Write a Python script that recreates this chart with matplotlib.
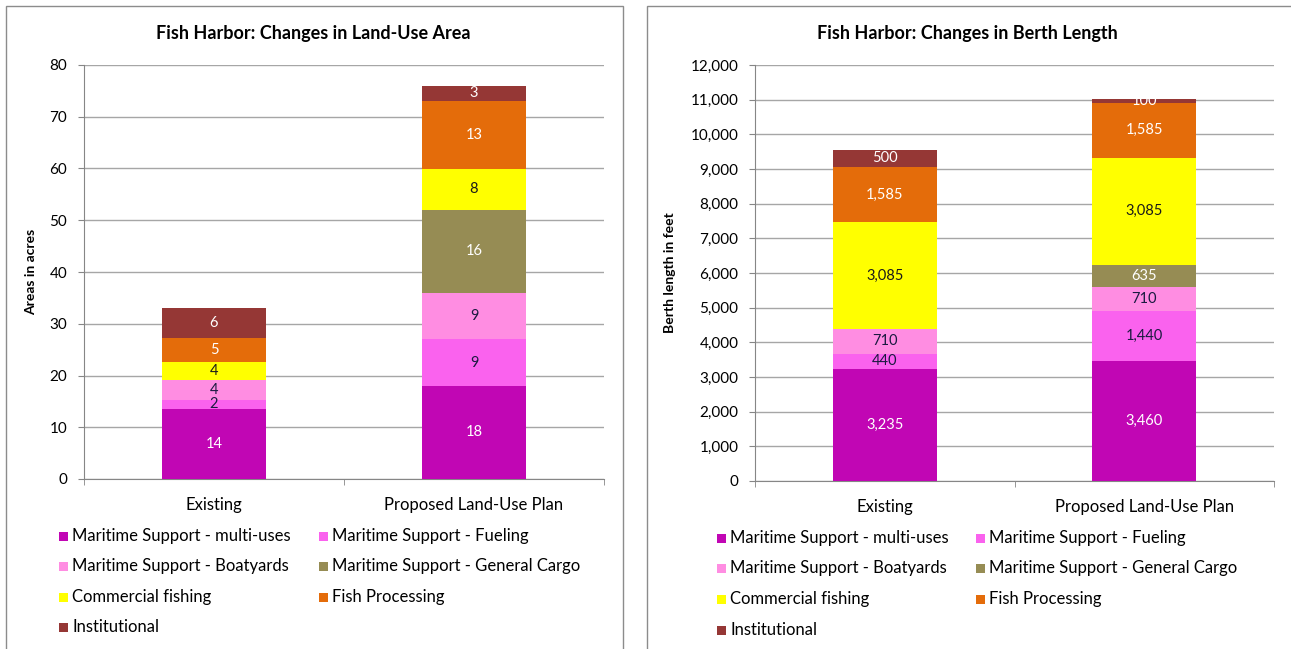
import matplotlib
matplotlib.use("Agg")
import matplotlib.pyplot as plt
from matplotlib.patches import Rectangle
from matplotlib.ticker import FuncFormatter, MultipleLocator

plt.rcParams['font.family'] = ['Lato', 'DejaVu Sans']

categories = ["Existing", "Proposed Land-Use Plan"]
series = [
    "Maritime Support - multi-uses",
    "Maritime Support - Fueling",
    "Maritime Support - Boatyards",
    "Maritime Support - General Cargo",
    "Commercial fishing",
    "Fish Processing",
    "Institutional",
]
colors = ["#C106B4", "#FA62EE", "#FF8DE2", "#968C54", "#FFFF00", "#E46C0A", "#953735"]
label_colors = ["white", "#1a1a40", "#1a1a40", "white", "#1a1a1a", "white", "white"]

# Land-use area in acres (Existing, Proposed)
area_multi = [13.6, 18]
area_fueling = [1.6, 9]
area_boatyards = [3.95, 9]
area_cargo = [0, 16]
area_fishing = [3.55, 8]
area_processing = [4.6, 13]
area_institutional = [5.8, 3]

# Berth length in feet (Existing, Proposed)
berth_multi = [3235, 3460]
berth_fueling = [440, 1440]
berth_boatyards = [710, 710]
berth_cargo = [0, 635]
berth_fishing = [3085, 3085]
berth_processing = [1585, 1585]
berth_institutional = [500, 100]

area = [area_multi, area_fueling, area_boatyards, area_cargo,
        area_fishing, area_processing, area_institutional]
berth = [berth_multi, berth_fueling, berth_boatyards, berth_cargo,
         berth_fishing, berth_processing, berth_institutional]

W, H = 1291, 649
fig = plt.figure(figsize=(W / 100, H / 100), dpi=100)
fig.patch.set_facecolor("white")


def px_axes(left, top, right, bottom):
    return fig.add_axes([left / W, 1 - bottom / H, (right - left) / W, (bottom - top) / H])


def panel_frame(x0, y0, x1, y1):
    fig.patches.append(Rectangle((x0 / W, 1 - y1 / H), (x1 - x0) / W, (y1 - y0) / H,
                                 transform=fig.transFigure, fill=False,
                                 edgecolor="#8c8c8c", linewidth=1.0))


def stacked(ax, data, width, ymax, step, fmt, ylabel):
    bottoms = [0.0] * len(categories)
    xs = list(range(len(categories)))
    for vals, c, lc in zip(data, colors, label_colors):
        ax.bar(xs, vals, width, bottom=bottoms, color=c, edgecolor="none", zorder=3)
        for i, v in enumerate(vals):
            if v > 0:
                ax.text(xs[i], bottoms[i] + v / 2, fmt(v), ha="center", va="center",
                        color=lc, fontsize=10.5, zorder=4)
        bottoms = [b + v for b, v in zip(bottoms, vals)]
    ax.set_xlim(-0.5, len(categories) - 0.5)
    ax.set_ylim(0, ymax)
    ax.yaxis.set_major_locator(MultipleLocator(step))
    ax.yaxis.set_major_formatter(FuncFormatter(lambda v, p: f"{int(v):,}"))
    ax.set_xticks(xs)
    ax.set_xticklabels(categories, fontsize=12)
    ax.set_xticks([-0.5, 0.5, 1.5], minor=True)
    ax.tick_params(axis="x", which="major", length=0, pad=13)
    ax.tick_params(axis="x", which="minor", length=4.5, color="#868686")
    ax.tick_params(axis="y", length=4.5, color="#868686", labelsize=11, pad=7.5)
    ax.grid(axis="y", color="#a6a6a6", linewidth=1.0, zorder=0)
    for s in ("top", "right"):
        ax.spines[s].set_visible(False)
    for s in ("left", "bottom"):
        ax.spines[s].set_color("#868686")
    ax.set_ylabel(ylabel, fontsize=10, fontweight="bold")


def legend(x_marker, x_col2, rows):
    pos = [(x_marker, rows[0]), (x_col2, rows[0]),
           (x_marker, rows[1]), (x_col2, rows[1]),
           (x_marker, rows[2]), (x_col2, rows[2]),
           (x_marker, rows[3])]
    for (x, y), name, c in zip(pos, series, colors):
        fig.patches.append(Rectangle(((x - 4.5) / W, 1 - (y + 4.5) / H), 9 / W, 9 / H,
                                     transform=fig.transFigure, facecolor=c,
                                     edgecolor="none"))
        fig.text((x + 9) / W, 1 - y / H, name, ha="left", va="center", fontsize=12)


# Left panel: land-use area
panel_frame(6, 6, 623, 660)
ax1 = px_axes(84, 65, 604, 479)
stacked(ax1, area, 0.40, 80, 10, lambda v: f"{v:.0f}", "Areas in acres")
ax1.yaxis.set_label_coords(-0.091, 0.5)
fig.text(313 / W, 1 - 33 / H, "Fish Harbor: Changes in Land-Use Area",
         ha="center", va="center", fontsize=13, fontweight="bold")
legend(63, 323, [536, 566, 597, 627])

# Right panel: berth length
panel_frame(647, 6, 1300, 660)
ax2 = px_axes(755, 65, 1274, 481)
stacked(ax2, berth, 0.40, 12000, 1000, lambda v: f"{v:,.0f}", "Berth length in feet")
ax2.yaxis.set_label_coords(-0.152, 0.5)
fig.text(967 / W, 1 - 33 / H, "Fish Harbor: Changes in Berth Length",
         ha="center", va="center", fontsize=13, fontweight="bold")
legend(721, 980, [538, 568, 599, 630])

fig.savefig("out.png", dpi=100, facecolor="white")
